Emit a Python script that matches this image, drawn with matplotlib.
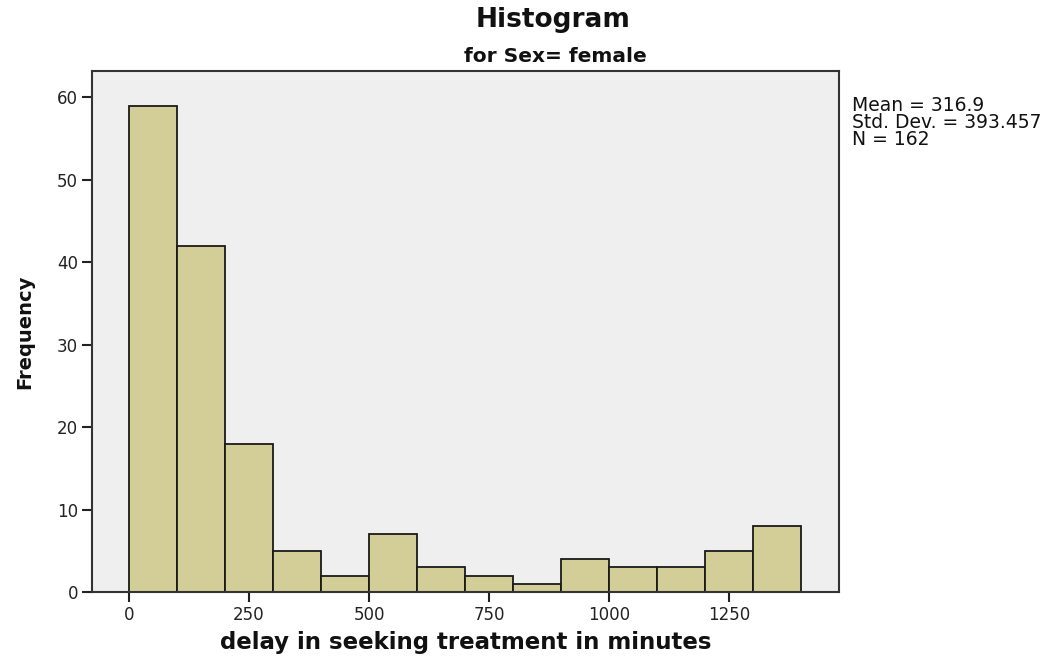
import matplotlib
matplotlib.use("Agg")
import matplotlib.pyplot as plt
import numpy as np

bin_edges = [0, 100, 200, 300, 400, 500, 600, 700, 800, 900, 1000, 1100, 1200, 1300, 1400]
counts = [59, 42, 18, 5, 2, 7, 3, 2, 1, 4, 3, 3, 5, 8]
x_ticks = [0, 250, 500, 750, 1000, 1250]
y_ticks = [0, 10, 20, 30, 40, 50, 60]
stats_text = "Mean = 316.9\nStd. Dev. = 393.457\nN = 162"

fig = plt.figure(figsize=(10.49, 6.56), dpi=100)
ax = fig.add_axes([92/1049, 1-592/656, (839-92)/1049, (592-71)/656])
ax.set_facecolor('#efefef')

lefts = np.array(bin_edges[:-1])
widths = np.diff(bin_edges)
ax.bar(lefts, counts, width=widths, align='edge', color='#d3ce98',
       edgecolor='#1a1a1a', linewidth=1.3, zorder=2)

ax.set_xlim(-77, 1479)
ax.set_ylim(0, 63.2)
ax.set_xticks(x_ticks)
ax.set_yticks(y_ticks)
ax.tick_params(direction='out', length=7, width=1.5, color='#222222',
               labelsize=12, labelcolor='#222222', pad=3)
for s in ax.spines.values():
    s.set_linewidth(1.5)
    s.set_color('#333333')

ax.set_xlabel('delay in seeking treatment in minutes', fontsize=16.5,
              fontweight='bold', color='#111111', labelpad=5)
fig.text(25/1049, 1-332/656, 'Frequency', rotation=90, ha='center', va='center',
         fontsize=14, fontweight='bold', color='#111111')

fig.text(553/1049, 1-20/656, 'Histogram', ha='center', va='center',
         fontsize=19, fontweight='bold', color='#111111')
fig.text(555/1049, 1-57/656, 'for Sex= female', ha='center', va='center',
         fontsize=14.5, fontweight='bold', color='#111111')

fig.text(852/1049, 1-96/656, stats_text, ha='left', va='top', fontsize=13.5,
         linespacing=0.88, color='#111111')

fig.savefig('out.png', dpi=100, facecolor='white')
